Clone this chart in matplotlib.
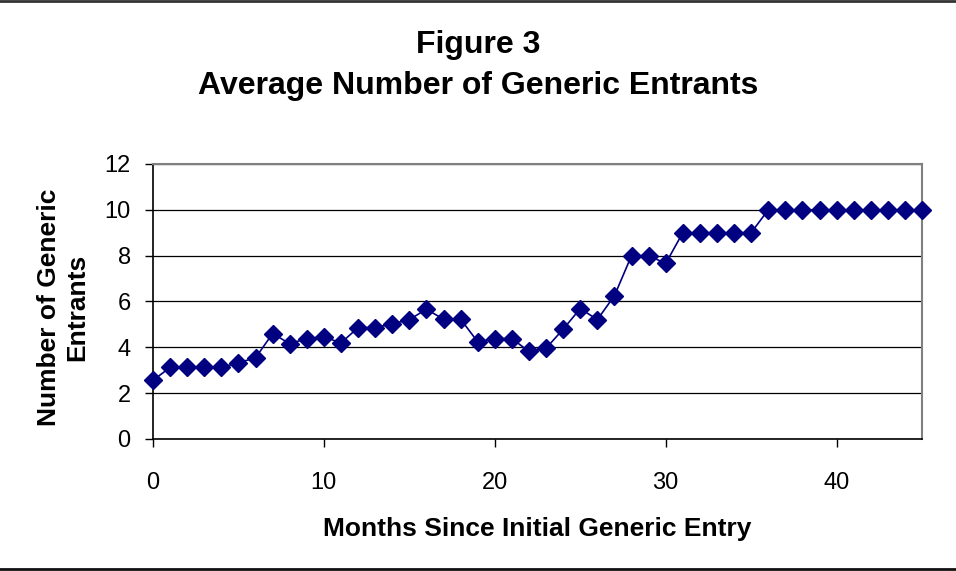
import matplotlib.pyplot as plt
import numpy as np

plt.rcParams['font.family'] = ['Liberation Sans', 'DejaVu Sans']

months = np.arange(0, 46)
entrants = [2.56, 3.12, 3.12, 3.12, 3.12, 3.33, 3.54, 4.6, 4.16, 4.38,
            4.46, 4.19, 4.86, 4.86, 5.02, 5.21, 5.66, 5.23, 5.23, 4.24,
            4.38, 4.38, 3.82, 3.96, 4.79, 5.69, 5.21, 6.25, 8.0, 8.0,
            7.66, 9.0, 9.0, 9.0, 9.0, 9.0, 10, 10, 10, 10,
            10, 10, 10, 10, 10, 10]

fig = plt.figure(figsize=(9.56, 5.71), dpi=100)
ax = fig.add_axes([0.160, 0.2312, 0.8045, 0.4816])

ax.plot(months, entrants, color='#000080', lw=1.2, marker='D',
        markersize=9, clip_on=False, zorder=3)

ax.set_xlim(0, 45)
ax.set_ylim(0, 12)
ax.set_yticks(range(0, 13, 2))
ax.set_xticks(range(0, 41, 10))
ax.grid(axis='y', color='black', lw=0.9)
ax.set_axisbelow(True)
for side in ['top', 'right']:
    ax.spines[side].set_color('#808080')
    ax.spines[side].set_linewidth(1.5)
for side in ['left', 'bottom']:
    ax.spines[side].set_color('black')
    ax.spines[side].set_linewidth(1.2)
ax.tick_params(labelsize=17, length=6, width=1, direction='out')
ax.tick_params(axis='y', pad=10)
ax.tick_params(axis='x', pad=17.5)

ax.set_xlabel('Months Since Initial Generic Entry', fontsize=19,
              fontweight='bold', labelpad=17)
ax.set_ylabel('Number of Generic\nEntrants', fontsize=19,
              fontweight='bold', labelpad=14)
ax.yaxis.set_label_coords(-0.083, 0.48)

fig.text(0.5, 0.921, 'Figure 3', ha='center', va='center',
         fontsize=23, fontweight='bold')
fig.text(0.5, 0.849, 'Average Number of Generic Entrants', ha='center',
         va='center', fontsize=23, fontweight='bold')

# frame lines across top and bottom of the figure
fig.add_artist(plt.Line2D([0, 1], [0.998, 0.998], color='#333333', lw=2))
fig.add_artist(plt.Line2D([0, 1], [0.003, 0.003], color='#111111', lw=2))

fig.savefig('out.png', dpi=100)
